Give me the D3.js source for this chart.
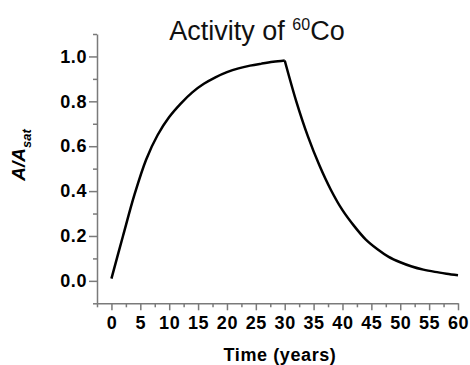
<!DOCTYPE html>
<html>
<head>
<meta charset="utf-8">
<script src="https://cdn.jsdelivr.net/npm/d3@7"></script>
<style>
  body { margin: 0; background: #fff; }
  svg { display: block; font-family: "Liberation Sans", Arial, sans-serif; }
  .axis text { font-size: 18px; font-weight: bold; fill: #000; letter-spacing: 0.6px; }
  .axis path, .axis line { stroke: #7a7a7a; stroke-width: 1.5; }
</style>
</head>
<body>
<svg id="chart" width="470" height="365"></svg>
<script>
// values
const years = [0, 2, 4, 6, 8, 10, 12, 14, 16, 18, 20, 22, 24, 26, 28, 30,
               32, 34, 36, 38, 40, 42, 44, 46, 48, 50, 52, 54, 56, 58, 60];
const activity = [0.01, 0.20, 0.385, 0.54, 0.65, 0.73, 0.79, 0.84, 0.878, 0.907, 0.93, 0.947, 0.959, 0.968, 0.976, 0.982,
                  0.80, 0.645, 0.515, 0.405, 0.315, 0.245, 0.185, 0.142, 0.107, 0.083, 0.064, 0.05, 0.04, 0.032, 0.025];
const peakYear = 30;
const xTicks = [0, 5, 10, 15, 20, 25, 30, 35, 40, 45, 50, 55, 60];
const xMinor = [-2.5, 2.5, 7.5, 12.5, 17.5, 22.5, 27.5, 32.5, 37.5, 42.5, 47.5, 52.5, 57.5];
const yTicks = [0, 0.2, 0.4, 0.6, 0.8, 1.0];
const yMinor = [-0.1, 0.1, 0.3, 0.5, 0.7, 0.9, 1.1];

const svg = d3.select('#chart');

const x = d3.scaleLinear().domain([-2.5, 60]).range([97, 458]);
const y = d3.scaleLinear().domain([-0.1, 1.1]).range([303.3, 34]);

// minor ticks first, so the major axes draw over them
svg.append('g')
    .attr('class', 'axis')
    .attr('transform', 'translate(0,303.3)')
    .call(d3.axisBottom(x).tickValues(xMinor).tickSize(4).tickFormat(''))
    .select('.domain').remove();
svg.append('g')
    .attr('class', 'axis')
    .attr('transform', 'translate(97,0)')
    .call(d3.axisLeft(y).tickValues(yMinor).tickSize(4).tickFormat(''))
    .select('.domain').remove();

// major axes
svg.append('g')
    .attr('class', 'axis')
    .attr('transform', 'translate(0,303.3)')
    .call(d3.axisBottom(x).tickValues(xTicks).tickSize(7).tickSizeOuter(0).tickPadding(6));
svg.append('g')
    .attr('class', 'axis')
    .attr('transform', 'translate(97,0)')
    .call(d3.axisLeft(y).tickValues(yTicks).tickSize(8).tickSizeOuter(0).tickPadding(2)
        .tickFormat(d3.format('.1f')));

// curve: build-up then decay, drawn as two pieces so the peak stays sharp
const pts = years.map((t, i) => ({ t: t, v: activity[i] }));
const line = d3.line()
    .x(d => x(d.t))
    .y(d => y(d.v))
    .curve(d3.curveCatmullRom.alpha(0.5));

[pts.filter(d => d.t <= peakYear), pts.filter(d => d.t >= peakYear)].forEach(seg => {
    svg.append('path')
        .datum(seg)
        .attr('fill', 'none')
        .attr('stroke', '#000')
        .attr('stroke-width', 2.5)
        .attr('d', line);
});

// title
const title = svg.append('text')
    .attr('x', 257)
    .attr('y', 40)
    .attr('text-anchor', 'middle')
    .style('font-size', '27px')
    .attr('fill', '#111');
title.append('tspan').text('Activity of ');
title.append('tspan').attr('dy', -10).style('font-size', '16px').text('60');
title.append('tspan').attr('dy', 10).text('Co');

// axis titles
svg.append('text')
    .attr('x', 280)
    .attr('y', 361)
    .attr('text-anchor', 'middle')
    .style('font-size', '18px')
    .style('font-weight', 'bold')
    .style('letter-spacing', '0.6px')
    .text('Time (years)');

const yl = svg.append('text')
    .attr('transform', 'translate(25,155) rotate(-90)')
    .attr('text-anchor', 'middle')
    .style('font-size', '19px')
    .style('font-weight', 'bold')
    .style('font-style', 'italic');
yl.append('tspan').text('A/A');
yl.append('tspan').attr('dy', 6).style('font-size', '13px').text('sat');
</script>
</body>
</html>
